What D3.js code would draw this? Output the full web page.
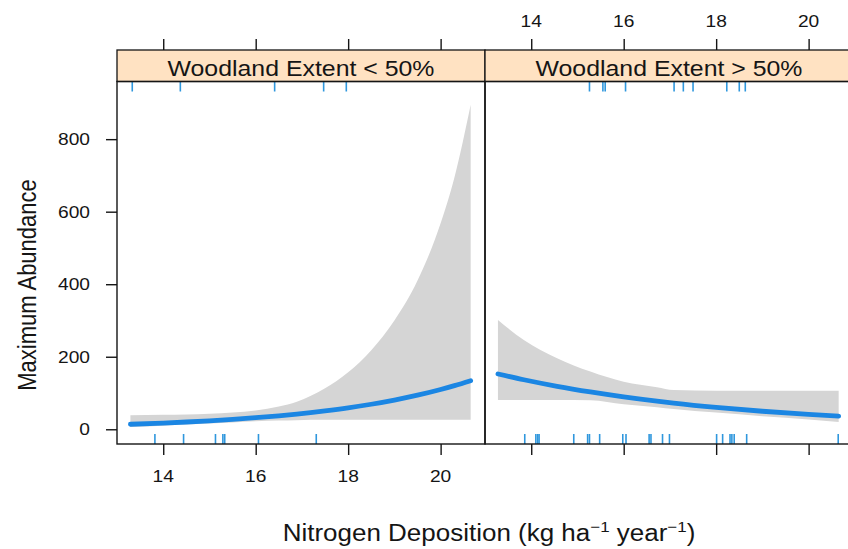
<!DOCTYPE html>
<html>
<head>
<meta charset="utf-8">
<script src="https://cdn.jsdelivr.net/npm/d3@7"></script>
<style>
  html, body { margin: 0; padding: 0; background: #fff; }
  svg { display: block; font-family: "Liberation Sans", Arial, sans-serif; }
</style>
</head>
<body>
<svg id="chart" width="848" height="549"></svg>
<script>
// Panel labels
const panelNames = ["Woodland Extent < 50%", "Woodland Extent > 50%"];

// Axis ticks
const xTicks = [14, 16, 18, 20];
const yTicks = [0, 200, 400, 600, 800];

// Fitted effect and confidence band, woodland < 50%
const lowN = [13.29, 14, 14.5, 15, 15.5, 16, 16.5, 16.89, 17.5, 18, 18.5, 19, 19.5, 20, 20.3, 20.65];
const lowFit = [13.8, 17.2, 20.1, 23.4, 27.3, 31.9, 37.2, 41.9, 50.7, 59.1, 69.0, 80.6, 94.0, 109.7, 120.4, 134];
const lowLower = [6, 10, 13, 16, 19, 22, 24, 25, 26, 26, 26, 26, 26, 26, 26, 26];
const lowUpper = [39, 40, 41, 43, 46, 52, 63, 76, 113, 157, 218, 300, 410, 568, 695, 895];

// Fitted effect and confidence band, woodland > 50%
const highN = [13.28, 13.84, 14.56, 15.28, 16.0, 16.72, 17.08, 18, 19, 20, 20.65];
const highFit = [152.5, 136.6, 118.6, 103.1, 89.5, 77.7, 72.4, 60.5, 49.7, 40.9, 36];
const highLower = [81, 81, 81, 80, 69, 61, 56, 46, 36, 27, 20];
const highUpper = [301, 246, 196, 159, 131, 116, 108, 106, 106, 106, 106];

// Observed nitrogen deposition (rug marks)
const lowTopRug = [13.33, 14.37, 16.41, 17.47, 17.96];
const lowBottomRug = [13.82, 14.44, 15.13, 15.29, 15.33, 16.06, 17.31];
const highTopRug = [15.26, 15.55, 15.60, 16.04, 17.09, 17.29, 17.50, 18.23, 18.50, 18.63];
const highBottomRug = [13.86, 14.10, 14.14, 14.17, 14.92, 15.22, 15.26, 15.48, 15.98, 16.05,
  16.55, 16.59, 16.84, 16.99, 18.01, 18.14, 18.30, 18.34, 18.39, 18.66, 20.64];

const nDomain = [13.0, 20.96];
const abundanceDomain = [-40.6, 959];

const panels = [
  { name: panelNames[0], n: lowN, fit: lowFit, lower: lowLower, upper: lowUpper, topRug: lowTopRug, bottomRug: lowBottomRug },
  { name: panelNames[1], n: highN, fit: highFit, lower: highLower, upper: highUpper, topRug: highTopRug, bottomRug: highBottomRug }
];

// Layout
const panelLeft = 117, panelW = 368;
const stripTop = 50, stripBottom = 81.5, panelBottom = 444;
const tickLen = 11, rugLen = 10;
const textStretch = 1.13;
const ink = "#151515";
const lineBlue = "#1b86e3";
const rugBlue = "#2f97dd";
const bandGrey = "#d5d5d5";

const svg = d3.select("#chart");

const y = d3.scaleLinear().domain(abundanceDomain).range([panelBottom, stripBottom]);

function stretchedText(sel, x, yy, rotate) {
  return sel.attr("transform", `translate(${x},${yy}) scale(${textStretch},1)` + (rotate ? ` rotate(${rotate})` : ""));
}

panels.forEach((p, i) => {
  const x0 = panelLeft + i * panelW;
  const x = d3.scaleLinear().domain(nDomain).range([x0, x0 + panelW]);
  const g = svg.append("g");

  const clipId = "clip" + i;
  svg.append("clipPath").attr("id", clipId)
    .append("rect").attr("x", x0).attr("y", stripBottom).attr("width", panelW).attr("height", panelBottom - stripBottom);

  const plot = g.append("g").attr("clip-path", `url(#${clipId})`);
  const rows = p.n.map((v, k) => ({ n: v, fit: p.fit[k], lo: p.lower[k], hi: p.upper[k] }));

  // confidence band
  plot.append("path")
    .datum(rows)
    .attr("fill", bandGrey)
    .attr("d", d3.area().curve(d3.curveMonotoneX)
      .x(d => x(d.n)).y0(d => y(d.lo)).y1(d => y(d.hi)));

  // fitted line
  plot.append("path")
    .datum(rows)
    .attr("fill", "none")
    .attr("stroke", lineBlue)
    .attr("stroke-width", 4.8)
    .attr("stroke-linecap", "round")
    .attr("d", d3.line().curve(d3.curveMonotoneX).x(d => x(d.n)).y(d => y(d.fit)));

  // rugs
  plot.selectAll(".rugTop").data(p.topRug).enter().append("line")
    .attr("x1", d => x(d)).attr("x2", d => x(d))
    .attr("y1", stripBottom).attr("y2", stripBottom + rugLen)
    .attr("stroke", rugBlue).attr("stroke-width", 1.6);
  plot.selectAll(".rugBottom").data(p.bottomRug).enter().append("line")
    .attr("x1", d => x(d)).attr("x2", d => x(d))
    .attr("y1", panelBottom - rugLen).attr("y2", panelBottom)
    .attr("stroke", rugBlue).attr("stroke-width", 1.6);

  // strip
  g.append("rect")
    .attr("x", x0).attr("y", stripTop).attr("width", panelW).attr("height", stripBottom - stripTop)
    .attr("fill", "#ffe2c2").attr("stroke", ink).attr("stroke-width", 1.3);
  stretchedText(g.append("text"), x0 + panelW / 2, 76)
    .attr("text-anchor", "middle").attr("font-size", 22).attr("fill", ink).text(p.name);

  // panel frame
  g.append("rect")
    .attr("x", x0).attr("y", stripBottom).attr("width", panelW).attr("height", panelBottom - stripBottom)
    .attr("fill", "none").attr("stroke", ink).attr("stroke-width", 1.4);

  // x axes: bottom ticks, labels on first panel; top ticks, labels on second panel
  const bottomAxis = d3.axisBottom(x).tickValues(xTicks).tickSize(tickLen).tickFormat("");
  const bAx = g.append("g").attr("transform", `translate(0,${panelBottom})`).call(bottomAxis);
  const topAxis = d3.axisTop(x).tickValues(xTicks).tickSize(tickLen).tickFormat("");
  const tAx = g.append("g").attr("transform", `translate(0,${stripTop})`).call(topAxis);
  [bAx, tAx].forEach(a => {
    a.select(".domain").remove();
    a.selectAll(".tick line").attr("stroke", ink).attr("stroke-width", 1.4);
  });
  if (i === 0) {
    xTicks.forEach(t => {
      stretchedText(g.append("text"), x(t), 482)
        .attr("text-anchor", "middle").attr("font-size", 17).attr("fill", ink).text(t);
    });
  } else {
    xTicks.forEach(t => {
      stretchedText(g.append("text"), x(t), 27)
        .attr("text-anchor", "middle").attr("font-size", 17).attr("fill", ink).text(t);
    });
  }

  // y axis on first panel
  if (i === 0) {
    const leftAxis = d3.axisLeft(y).tickValues(yTicks).tickSize(tickLen).tickFormat("");
    const lAx = g.append("g").attr("transform", `translate(${x0},0)`).call(leftAxis);
    lAx.select(".domain").remove();
    lAx.selectAll(".tick line").attr("stroke", ink).attr("stroke-width", 1.4);
    yTicks.forEach(t => {
      stretchedText(g.append("text"), 90, y(t) + 6)
        .attr("text-anchor", "end").attr("font-size", 17).attr("fill", ink).text(t);
    });
  }
});

// axis titles
stretchedText(svg.append("text"), 36, 285, -90)
  .attr("text-anchor", "middle").attr("font-size", 22).attr("fill", ink)
  .text("Maximum Abundance");

const xt = stretchedText(svg.append("text"), 489, 541)
  .attr("text-anchor", "middle").attr("font-size", 23).attr("fill", ink);
xt.append("tspan").text("Nitrogen Deposition (kg ha");
xt.append("tspan").attr("font-size", 15).attr("dy", -9).text("\u22121");
xt.append("tspan").attr("dy", 9).text(" year");
xt.append("tspan").attr("font-size", 15).attr("dy", -9).text("\u22121");
xt.append("tspan").attr("dy", 9).text(")");
</script>
</body>
</html>
